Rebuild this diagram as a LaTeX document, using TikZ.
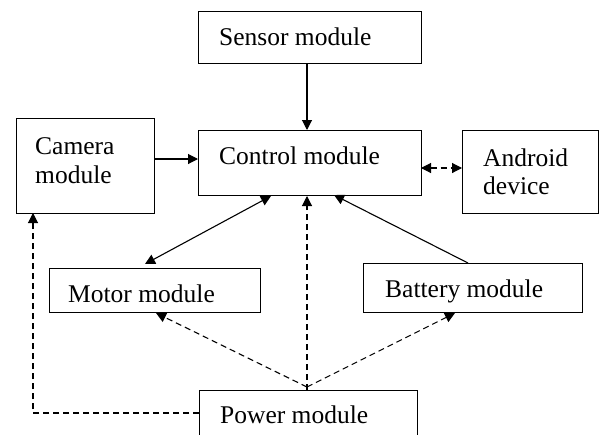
\documentclass[tikz,border=0pt]{standalone}
\usepackage{fontspec}
\setmainfont{Liberation Serif}
\usetikzlibrary{arrows.meta}
\begin{document}
\begin{tikzpicture}[x=1pt,y=-1pt,
  box/.style={draw, line width=1.4pt, inner sep=0pt, anchor=north west},
  lbl/.style={anchor=base west, inner sep=0pt, font=\fontsize{25.5}{30}\selectfont},
  conn/.style={line width=1.1pt, -{Triangle[length=10pt,width=10pt]}},
  bidir/.style={line width=1.1pt, {Triangle[length=10pt,width=10pt]}-{Triangle[length=10pt,width=10pt]}},
  dsh/.style={dash pattern=on 6pt off 4pt}]
\useasboundingbox (0,0) rectangle (599,434);
\clip (0,0) rectangle (599,434);
% boxes
\node[box, minimum width=223pt, minimum height=52pt] (sensor) at (198,11) {};
\node[box, minimum width=223pt, minimum height=65pt] (ctrl) at (198,130) {};
\node[box, minimum width=138pt, minimum height=95pt] (cam) at (16,118) {};
\node[box, minimum width=136pt, minimum height=83pt] (andr) at (462,130) {};
\node[box, minimum width=211pt, minimum height=44pt] (motor) at (49,268) {};
\node[box, minimum width=219pt, minimum height=49pt] (batt) at (363,263) {};
\node[box, minimum width=218pt, minimum height=70pt] (power) at (199,390) {};
% labels
\node[lbl] (tsensor) at (219,45) {Sensor module};
\node[lbl] (tctrl) at (219,164) {Control module};
\node[lbl] (tcam1) at (35,154) {Camera};
\node[lbl] (tcam2) at (35,183) {module};
\node[lbl] (tand1) at (483,166) {Android};
\node[lbl] (tand2) at (483,194) {device};
\node[lbl] (tmotor) at (68,302) {Motor module};
\node[lbl] (tbatt) at (385,297) {Battery module};
\node[lbl] (tpower) at (220,423) {Power module};
% coordinates
\coordinate (sensB) at (307,63);
\coordinate (ctrlT) at (307,130);
\coordinate (camR) at (154,159);
\coordinate (ctrlL) at (198,159);
\coordinate (ctrlR) at (421,168);
\coordinate (andL) at (462,168);
\coordinate (ctrlB1) at (271,196);
\coordinate (motT) at (145,264);
\coordinate (ctrlB3) at (334,195);
\coordinate (batT) at (468,263);
\coordinate (ctrlB2) at (307,196);
\coordinate (powT) at (307,390);
\coordinate (powJ) at (307,387);
\coordinate (motB) at (156,313);
\coordinate (batB) at (455,313);
\coordinate (powL) at (199,413);
\coordinate (corner) at (33,413);
\coordinate (camB) at (33,213);
% connectors
\draw[conn] (sensB) -- (ctrlT);
\draw[conn] (camR) -- (ctrlL);
\draw[bidir, dsh] (ctrlR) -- (andL);
\draw[bidir] (ctrlB1) -- (motT);
\draw[conn] (batT) -- (ctrlB3);
\draw[conn, dsh] (powT) -- (ctrlB2);
\draw[conn, dsh] (powJ) -- (motB);
\draw[conn, dsh] (powJ) -- (batB);
\draw[conn, dsh] (powL) -- (corner) -- (camB);
\end{tikzpicture}
\end{document}
